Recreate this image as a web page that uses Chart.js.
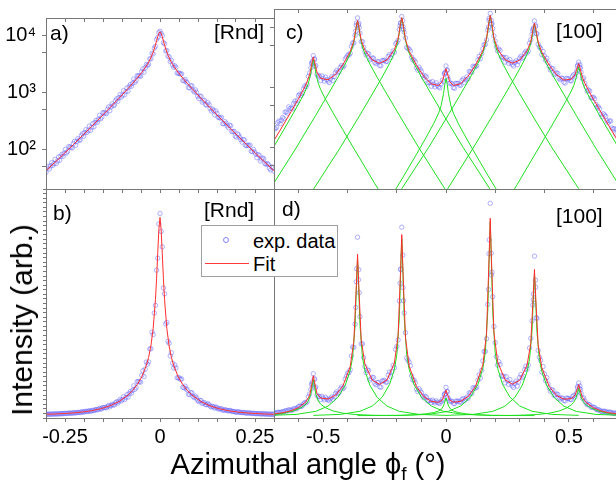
<!DOCTYPE html>
<html>
<head>
<meta charset="utf-8">
<title>Azimuthal scans</title>
<script src="https://cdn.jsdelivr.net/npm/chart.js@4.4.1/dist/chart.umd.min.js"></script>
<style>
  html, body { margin: 0; padding: 0; background: #fff; overflow: hidden; }
  #wrap { position: relative; width: 616px; height: 481px; overflow: hidden;
          font-family: "Liberation Sans", Arial, sans-serif; color: #000; }
  #wrap canvas { position: absolute; left: 0; top: 0; }
  .txt { position: absolute; white-space: nowrap; line-height: 1; }
  .pl { font-size: 21px; }
  #ytitle { font-size: 30px; left: 22px; top: 320px; transform: translate(-50%, -50%) rotate(-90deg); }
  #xtitle { font-size: 29px; left: 308px; top: 466px; transform: translate(-50%, -50%); }
  #xtitle sub { font-size: 19px; vertical-align: -6px; }
  #legend { position: absolute; left: 201px; top: 225px; width: 135px; height: 50px;
            border: 1px solid #a0a0a0; background: #fff; font-size: 20px; }
  #legend .mk { position: absolute; left: 21px; top: 11px; width: 4px; height: 4px;
                border: 1px solid rgba(105,105,255,0.8); border-radius: 50%; }
  #legend .ln { position: absolute; left: 3px; top: 37px; width: 44px; height: 1px;
                background: rgb(255,60,60); }
</style>
</head>
<body>
<div id="wrap">
  <canvas id="cA" width="616" height="481"></canvas>
  <canvas id="cB" width="616" height="481"></canvas>
  <canvas id="cC" width="700" height="481"></canvas>
  <canvas id="cD" width="700" height="481"></canvas>

  <div class="txt pl" style="left:50px;top:22px">a)</div>
  <div class="txt pl" style="left:214px;top:21px">[Rnd]</div>
  <div class="txt pl" style="left:53px;top:202px">b)</div>
  <div class="txt pl" style="left:204px;top:199px">[Rnd]</div>
  <div class="txt pl" style="left:286px;top:21px">c)</div>
  <div class="txt pl" style="left:556px;top:20px">[100]</div>
  <div class="txt pl" style="left:282px;top:198px">d)</div>
  <div class="txt pl" style="left:556px;top:205px">[100]</div>

  <div id="legend">
    <div class="mk"></div>
    <div class="txt" style="left:51px;top:5px">exp. data</div>
    <div class="ln"></div>
    <div class="txt" style="left:51px;top:28px">Fit</div>
  </div>

  <div id="ytitle" class="txt">Intensity (arb.)</div>
  <div id="xtitle" class="txt">Azimuthal angle ϕ<sub>f</sub> (°)</div>
</div>

<script>
// ---- [Rnd] scan: angle (deg) and counts
const rndX = [-0.300,-0.294,-0.288,-0.282,-0.276,-0.270,-0.264,-0.258,-0.252,-0.246,
  -0.240,-0.234,-0.228,-0.222,-0.216,-0.210,-0.204,-0.198,-0.192,-0.186,
  -0.180,-0.174,-0.168,-0.162,-0.156,-0.150,-0.144,-0.138,-0.132,-0.126,
  -0.120,-0.114,-0.108,-0.102,-0.096,-0.090,-0.084,-0.078,-0.072,-0.066,
  -0.060,-0.054,-0.048,-0.042,-0.036,-0.030,-0.027,-0.024,-0.021,-0.018,
  -0.015,-0.012,-0.009,-0.006,-0.003,0,0.003,0.006,0.009,0.012,
  0.015,0.018,0.021,0.024,0.027,0.030,0.036,0.042,0.048,0.054,
  0.060,0.066,0.072,0.078,0.084,0.090,0.096,0.102,0.108,0.114,
  0.120,0.126,0.132,0.138,0.144,0.150,0.156,0.162,0.168,0.174,
  0.180,0.186,0.192,0.198,0.204,0.210,0.216,0.222,0.228,0.234,
  0.240,0.246,0.252,0.258,0.264,0.270,0.276,0.282,0.288,0.294,
  0.300];
const rndExp = [39,50,51,52,66,62,64,81,85,86,
  111,107,125,117,153,145,187,195,197,254,
  242,247,319,333,341,439,429,501,473,625,
  592,764,803,817,1064,1019,1045,1361,1438,1488,
  1942,1935,2304,2233,3075,3081,3833,3852,4816,4672,
  5926,6371,8412,9112,11097,11710,10666,9770,7380,7041,
  5293,5376,4281,4172,3431,3617,2730,2735,2149,2073,
  1606,1678,1452,1194,1289,1008,988,774,842,707,
  605,654,515,506,398,423,359,360,280,285,
  237,257,203,170,185,161,133,145,116,115,
  92,99,82,80,62,70,56,56,46,49,
  41];
// second pass of the [Rnd] scan, in between the first one
const rndMidX = [-0.297,-0.291,-0.285,-0.279,-0.273,-0.267,-0.261,-0.255,-0.249,-0.243,
  -0.237,-0.231,-0.225,-0.219,-0.213,-0.207,-0.201,-0.195,-0.189,-0.183,
  -0.177,-0.171,-0.165,-0.159,-0.153,-0.147,-0.141,-0.135,-0.129,-0.123,
  -0.117,-0.111,-0.105,-0.099,-0.093,-0.087,-0.081,-0.075,-0.069,-0.063,
  -0.057,-0.051,-0.045,-0.039,-0.033,
  0.033,0.039,0.045,0.051,0.057,0.063,0.069,0.075,0.081,0.087,
  0.093,0.099,0.105,0.111,0.117,0.123,0.129,0.135,0.141,0.147,
  0.153,0.159,0.165,0.171,0.177,0.183,0.189,0.195,0.201,0.207,
  0.213,0.219,0.225,0.231,0.237,0.243,0.249,0.255,0.261,0.267,
  0.273,0.279,0.285,0.291,0.297];
const rndMidExp = [46,45,58,56,56,73,75,75,99,92,
  109,105,137,136,143,173,168,220,213,214,
  279,293,296,391,366,435,418,552,551,582,
  708,691,909,886,899,1181,1245,1271,1696,1604,
  1941,1903,2569,2658,2947,
  3009,2900,2168,2154,2090,1587,1516,1203,1294,1082,
  1099,850,852,669,721,595,602,466,473,468,
  362,349,280,304,256,262,204,206,163,177,
  146,148,116,118,118,91,89,71,78,67,
  68,54,54,43,47];
const rndFitX = [-0.300,-0.276,-0.252,-0.228,-0.204,-0.180,-0.156,-0.132,-0.108,-0.084,
  -0.072,-0.060,-0.048,-0.036,-0.030,-0.024,-0.018,-0.012,-0.009,-0.006,-0.003,0,
  0.003,0.006,0.009,0.012,0.018,0.024,0.030,0.036,0.048,0.060,0.072,
  0.084,0.108,0.132,0.156,0.180,0.204,0.228,0.252,0.276,0.300];
const rndFit = [42,59,84,120,173,249,363,531,780,1161,
  1424,1765,2215,2874,3349,4012,5024,6706,7936,9394,10774,11481,
  10774,9394,7936,6706,5024,4012,3349,2874,2215,1765,1424,
  1161,780,531,363,249,173,120,84,59,42];

// ---- [100] scan
const h100X = [-0.70,-0.69,-0.68,-0.67,-0.66,-0.65,-0.64,-0.63,-0.62,-0.61,
  -0.60,-0.59,-0.58,-0.57,-0.56,-0.55,-0.54,-0.53,-0.52,-0.51,
  -0.50,-0.49,-0.48,-0.47,-0.46,-0.45,-0.44,-0.43,-0.42,-0.41,
  -0.40,-0.39,-0.38,-0.37,-0.36,-0.35,-0.34,-0.33,-0.32,-0.31,
  -0.30,-0.29,-0.28,-0.27,-0.26,-0.25,-0.24,-0.23,-0.22,-0.21,
  -0.20,-0.19,-0.18,-0.17,-0.16,-0.15,-0.14,-0.13,-0.12,-0.11,
  -0.10,-0.09,-0.08,-0.07,-0.06,-0.05,-0.04,-0.03,-0.02,-0.01,
  0,0.01,0.02,0.03,0.04,0.05,0.06,0.07,0.08,0.09,
  0.10,0.11,0.12,0.13,0.14,0.15,0.16,0.17,0.18,0.19,
  0.20,0.21,0.22,0.23,0.24,0.25,0.26,0.27,0.28,0.29,
  0.30,0.31,0.32,0.33,0.34,0.35,0.36,0.37,0.38,0.39,
  0.40,0.41,0.42,0.43,0.44,0.45,0.46,0.47,0.48,0.49,
  0.50,0.51,0.52,0.53,0.54,0.55,0.56,0.57,0.58,0.59,
  0.60,0.61,0.62,0.63,0.64,0.65,0.66,0.67,0.68,0.69,
  0.70];
const h100Exp = [205,212,270,280,297,385,468,446,534,529,
  726,725,932,1008,1502,2095,3330,2283,1527,1274,
  1394,1467,1256,1364,1291,1746,1757,2132,2154,2921,
  3392,3651,5464,7280,14200,7877,5716,3895,3636,2830,
  3052,2573,2647,2294,2758,2809,2671,3465,3492,3814,
  5502,9135,15000,8172,4582,4262,3168,2833,2111,2147,
  1823,1419,1474,1183,1028,1113,1176,1009,1127,1234,
  2250,1338,1158,978,1155,1150,1071,1364,1319,1381,
  1799,2229,2200,2828,2982,4355,5111,8856,16900,9459,
  5811,4018,4070,3133,2604,2777,2867,2373,2565,2350,
  3036,3014,3667,3701,5388,7536,12700,7737,4653,3463,
  3328,3024,2202,2050,1602,1732,1402,1411,1202,1395,
  1367,1272,1606,1725,2600,1753,1421,998,889,663,
  677,514,469,353,360,326,256,271,200,166,
  169];
// second pass of the [100] scan, in between the first one
const h100MidX = [-0.695,-0.685,-0.675,-0.665,-0.655,-0.645,-0.635,-0.625,-0.615,-0.605,
  -0.595,-0.585,-0.575,-0.565,-0.555,-0.545,-0.535,-0.525,-0.515,-0.505,
  -0.495,-0.485,-0.475,-0.465,-0.455,-0.445,-0.435,-0.425,-0.415,-0.405,
  -0.395,-0.385,-0.375,-0.365,-0.355,-0.345,-0.335,-0.325,-0.315,-0.305,
  -0.295,-0.285,-0.275,-0.265,-0.255,-0.245,-0.235,-0.225,-0.215,-0.205,
  -0.195,-0.185,-0.175,-0.165,-0.155,-0.145,-0.135,-0.125,-0.115,-0.105,
  -0.095,-0.085,-0.075,-0.065,-0.055,-0.045,-0.035,-0.025,-0.015,-0.005,
  0.005,0.015,0.025,0.035,0.045,0.055,0.065,0.075,0.085,0.095,
  0.105,0.115,0.125,0.135,0.145,0.155,0.165,0.175,0.185,0.195,
  0.205,0.215,0.225,0.235,0.245,0.255,0.265,0.275,0.285,0.295,
  0.305,0.315,0.325,0.335,0.345,0.355,0.365,0.375,0.385,0.395,
  0.405,0.415,0.425,0.435,0.445,0.455,0.465,0.475,0.485,0.495,
  0.505,0.515,0.525,0.535,0.545,0.555,0.565,0.575,0.585,0.595,
  0.605,0.615,0.625,0.635,0.645,0.655,0.665,0.675,0.685,0.695];
const h100MidExp = [202,254,245,310,383,367,438,434,581,605,
  765,777,1036,1106,1723,2532,2872,1616,1529,1534,
  1259,1329,1189,1483,1500,1892,1829,2289,2255,3134,
  3420,4743,5433,10648,11617,5711,4620,3419,3587,2938,
  3027,2467,2633,2261,2770,2662,3231,3098,4001,5274,
  6028,11615,10197,6599,4417,3970,2831,2612,1913,1970,
  1564,1536,1177,1209,1232,1007,1067,969,1308,1698,
  1907,1158,1137,955,1147,1079,1283,1195,1480,1816,
  1762,2168,2267,3247,3602,5096,6122,12890,11188,7094,
  4695,4295,3180,3131,3096,2483,2554,2242,2745,2670,
  3268,3142,3936,4013,6149,9227,10234,5190,4400,3908,
  2793,2527,1930,2026,1665,1683,1329,1392,1164,1375,
  1281,1517,1473,2215,2354,1380,1166,855,859,669,
  637,463,435,320,342,275,273,208,203,197];
// extra samples taken close to each peak
const h100PeakX = [-0.547,-0.544,-0.536,-0.533,-0.367,-0.364,-0.356,-0.353,
  -0.187,-0.184,-0.176,-0.173,-0.007,-0.004,0.004,0.007,
  0.173,0.176,0.184,0.187,0.353,0.356,0.364,0.367,0.533,0.536,0.544,0.547];
const h100PeakExp = [2477,2673,2951,2194,8609,11697,10814,9787,
  10539,11675,12781,9147,1655,1760,1923,1481,
  10034,13992,12926,11421,8803,9673,10781,7797,1877,2325,2148,2072];
const h100FitX = [-0.70,-0.66,-0.63,-0.60,-0.57,-0.555,-0.545,-0.54,-0.535,-0.525,
  -0.51,-0.48,-0.45,-0.42,-0.39,-0.375,-0.365,-0.36,-0.355,-0.345,
  -0.33,-0.30,-0.27,-0.24,-0.21,-0.195,-0.185,-0.18,-0.175,-0.165,
  -0.15,-0.12,-0.09,-0.06,-0.03,-0.015,-0.005,0,0.005,0.015,
  0.03,0.06,0.09,0.12,0.15,0.165,0.175,0.18,0.185,0.195,
  0.21,0.24,0.27,0.30,0.33,0.345,0.355,0.36,0.365,0.375,
  0.39,0.42,0.45,0.48,0.51,0.525,0.535,0.54,0.545,0.555,
  0.57,0.60,0.63,0.66,0.70];
const h100Fit = [129,242,391,640,1096,1610,2610,3179,2659,1756,
  1400,1322,1617,2341,3884,5905,10338,12839,10372,6012,
  4100,2826,2494,2842,4191,6345,11500,14413,11457,6225,
  3946,2295,1510,1130,1062,1234,1733,2025,1734,1232,
  1063,1139,1518,2316,4032,6513,12394,15710,12431,6630,
  4274,2861,2498,2811,4023,5747,9512,11640,9476,5641,
  3805,2318,1604,1307,1353,1601,2150,2467,2102,1453,
  1050,627,384,237,125];

// ---- fitted peak components (offsets from each peak position)
const peakPos = [-0.54, -0.36, -0.18, 0, 0.18, 0.36, 0.54];
const compOffsets = [-0.36,-0.25,-0.17,-0.12,-0.08,-0.05,-0.03,-0.02,-0.01,-0.005,0,
  0.005,0.01,0.02,0.03,0.05,0.08,0.12,0.17,0.25,0.36];
const comp1 = [4.7,24.7,87.5,195,374,620,906,1158,1718,2329,2870,2329,1718,1158,906,620,374,195,87.5,24.7,4.7];
const comp2 = [18.8,96.6,339.5,756,1449,2422,3581,4651,7168,9986,12470,9986,7168,4651,3581,2422,1449,756,339.5,96.6,18.8];
const comp3 = [19.6,98.3,343,763,1465,2462,3687,4872,7792,11136,14070,11136,7792,4872,3687,2462,1465,763,343,98.3,19.6];
const comp4 = [1.9,9.8,34,76,147,246.5,369,486,777,1109,1400,1109,777,486,369,246.5,147,76,34,9.8,1.9];
const comp5 = [20.2,99.6,346,769,1478,2494,3774,5051,8299,12071,15370,12071,8299,5051,3774,2494,1478,769,346,99.6,20.2];
const comp6 = [18.2,95.4,337,751,1437,2392,3501,4485,6700,9123,11270,9123,6700,4485,3501,2392,1437,751,337,95.4,18.2];
const comp7 = [4.3,23.9,85.9,191.8,366.5,602.5,859,1060,1441,1818,2160,1818,1441,1060,859,602.5,366.5,191.8,85.9,23.9,4.3];
const components = [comp1, comp2, comp3, comp4, comp5, comp6, comp7];

// ---- ticks
const rndTickVals = [-0.25, 0, 0.25];
const rndTickText = ['-0.25', '0', '0.25'];
const h100TickVals = [-0.5, 0, 0.5];
const h100TickText = ['-0.5', '0', '0.5'];
const h100TopTicks = [-0.6, -0.4, -0.2, 0, 0.2, 0.4, 0.6];
const logTickVals = [50, 100, 500, 1000, 5000, 10000];
const logTickText = ['', '10²', '', '10³', '', '10⁴'];

// ---- styling
const tickFont = { family: 'Liberation Sans', size: 20 };
const axisGray = '#777777';
const dataBlue = 'rgba(105,105,255,0.65)';
const fitRed = 'rgb(255,45,45)';
const compGreen = 'rgb(30,225,30)';

function toPoints(xs, ys) {
  return xs.map((x, i) => ({ x: x, y: ys[i] }));
}

function labeler(vals, texts) {
  return function (v) {
    const i = vals.findIndex(t => Math.abs(t - v) < 1e-6);
    return i < 0 ? '' : texts[i];
  };
}

// axis with a fixed box size (labels are clipped to that box)
function axis(position, o) {
  const horiz = position === 'top' || position === 'bottom';
  const size = o.size || 0;
  return {
    type: o.type || 'linear',
    position: position,
    min: o.min, max: o.max,
    afterFit: s => { if (horiz) s.height = size; else s.width = size; },
    afterBuildTicks: o.tickVals ? (s => { s.ticks = o.tickVals.map(v => ({ value: v })); }) : undefined,
    grid: { display: o.noTicks ? false : true, drawOnChartArea: false, drawTicks: true,
            tickLength: o.tickLength || 4, tickColor: axisGray },
    border: { display: false },
    ticks: {
      display: !!o.labels,
      stepSize: o.step,
      autoSkip: false, maxRotation: 0, minRotation: 0,
      padding: o.pad || 3,
      font: tickFont, color: '#000',
      callback: o.labels || (() => '')
    }
  };
}

const framePlugin = {
  id: 'frame',
  afterDraw(chart) {
    const a = chart.chartArea, c = chart.ctx;
    c.save();
    c.strokeStyle = axisGray;
    c.lineWidth = 1;
    c.strokeRect(a.left + 0.5, a.top + 0.5, a.right - a.left, a.bottom - a.top);
    c.restore();
  }
};

function expSet(pts) {
  return { data: pts, showLine: false, pointStyle: 'circle', pointRadius: 2.2,
           pointBorderWidth: 0.8, borderColor: dataBlue, backgroundColor: 'rgba(0,0,0,0)', order: 3 };
}
function lineSet(pts, color, order) {
  return { data: pts, showLine: true, pointRadius: 0, borderColor: color,
           borderWidth: 1, fill: false, tension: 0, order: order };
}

function panel(id, pad, scales, datasets) {
  return new Chart(document.getElementById(id), {
    type: 'scatter',
    data: { datasets: datasets },
    options: {
      responsive: false, animation: false, devicePixelRatio: 1,
      layout: { padding: { left: pad[0], top: pad[1], right: pad[2], bottom: pad[3] } },
      plugins: { legend: { display: false }, tooltip: { enabled: false } },
      scales: scales
    },
    plugins: [framePlugin]
  });
}

const rndPts = toPoints(rndX, rndExp).concat(toPoints(rndMidX, rndMidExp));
const rndFitPts = toPoints(rndFitX, rndFit);
const h100Pts = toPoints(h100X, h100Exp)
  .concat(toPoints(h100MidX, h100MidExp), toPoints(h100PeakX, h100PeakExp));
const h100FitPts = toPoints(h100FitX, h100Fit);
function compSets() {
  return components.map((ys, i) =>
    lineSet(compOffsets.map((o, j) => ({ x: peakPos[i] + o, y: ys[j] })), compGreen, 1));
}

// a) [Rnd], log scale  -> plot area 46..274 x 9..189
panel('cA', [0, 9, 342, 292], {
  x: axis('bottom', { min: -0.3, max: 0.3, step: 0.05 }),
  xTop: axis('top', { min: -0.3, max: 0.3, step: 0.05, tickLength: -4 }),
  y: axis('left', { type: 'logarithmic', min: 20, max: 20000, tickVals: logTickVals,
                    labels: labeler(logTickVals, logTickText), pad: 6, size: 46 })
}, [expSet(rndPts), lineSet(rndFitPts, fitRed, 0)]);

// b) [Rnd], linear scale -> 46..274 x 189..418
panel('cB', [46, 189, 342, 18], {
  x: axis('bottom', { min: -0.3, max: 0.3, step: 0.05, labels: labeler(rndTickVals, rndTickText),
                      pad: 3, size: 45 }),
  y: axis('left', { min: -175, max: 13130, step: 266, tickLength: 3 })
}, [expSet(rndPts), lineSet(rndFitPts, fitRed, 0)]);

// c) [100], log scale -> 274..618 x 9..189
panel('cC', [274, 9, 82, 292], {
  x: axis('bottom', { min: -0.7, max: 0.7, tickVals: h100TopTicks }),
  xTop: axis('top', { min: -0.7, max: 0.7, tickVals: h100TopTicks, tickLength: -4 }),
  y: axis('left', { type: 'logarithmic', min: 20, max: 20000, tickVals: logTickVals })
}, [expSet(h100Pts)].concat(compSets(), [lineSet(h100FitPts, fitRed, 0)]));

// d) [100], linear scale -> 274..618 x 189..418
panel('cD', [274, 189, 82, 18], {
  x: axis('bottom', { min: -0.7, max: 0.7, step: 0.1, labels: labeler(h100TickVals, h100TickText),
                      pad: 3, size: 45 }),
  y: axis('left', { min: -190, max: 18040, noTicks: true })
}, [expSet(h100Pts)].concat(compSets(), [lineSet(h100FitPts, fitRed, 0)]));
</script>
</body>
</html>
